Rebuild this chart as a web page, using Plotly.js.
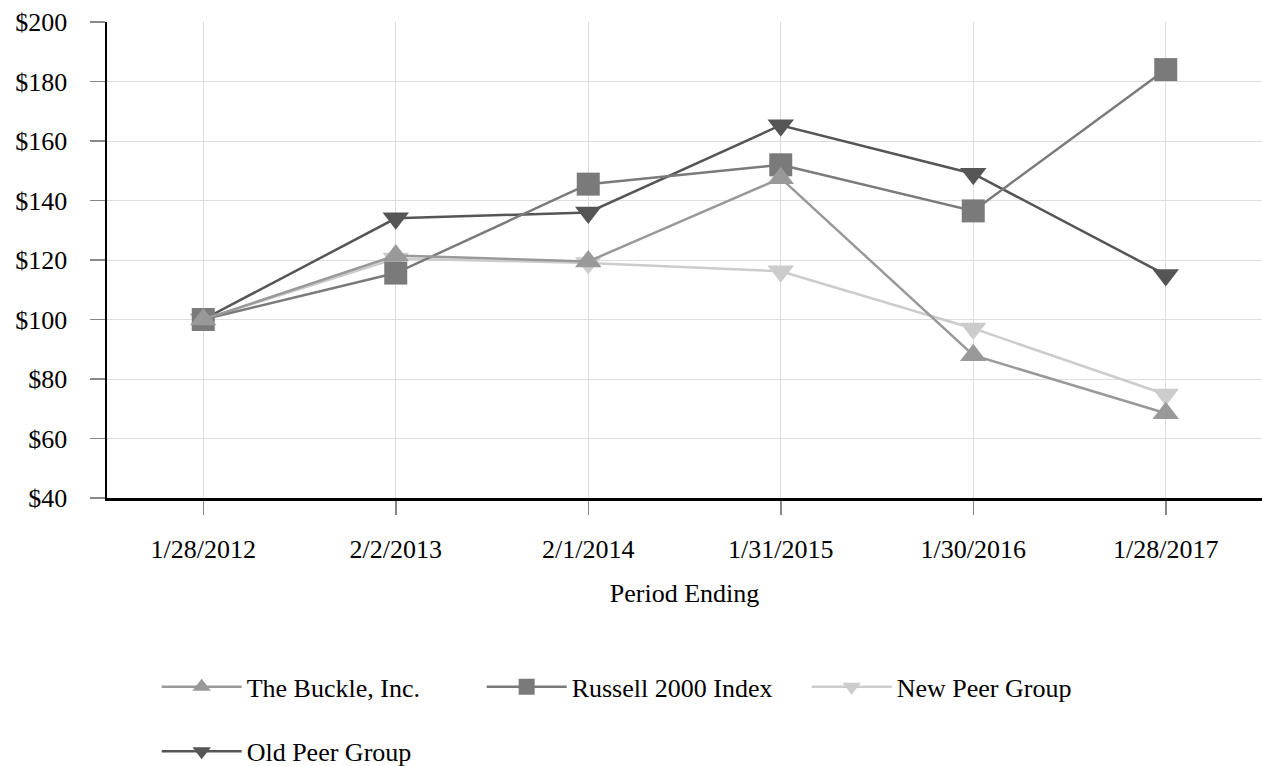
<!DOCTYPE html>
<html>
<head>
<meta charset="utf-8">
<script src="https://cdn.plot.ly/plotly-3.0.1.min.js"></script>
<style>html,body{margin:0;padding:0;background:#fff;}#chart{width:1262px;height:766px;}</style>
</head>
<body>
<div id="chart"></div>
<script>
var periods = ["1/28/2012", "2/2/2013", "2/1/2014", "1/31/2015", "1/30/2016", "1/28/2017"];
var buckle = [100, 121.5, 119.5, 147.5, 88, 68.5];
var russell = [100, 115.6, 145.5, 152, 136.5, 184];
var newPeer = [100, 120.5, 119, 116.2, 97, 74.8];
var oldPeer = [100, 134, 136, 165.3, 149, 115];
var yTicks = [40, 60, 80, 100, 120, 140, 160, 180, 200];
var yTickLabels = ["$40", "$60", "$80", "$100", "$120", "$140", "$160", "$180", "$200"];

var font = "Liberation Serif, Times New Roman, serif";
function tr(name, y, color, symbol, legend, rank) {
  return {
    x: periods, y: y, name: name, type: "scatter", mode: "lines+markers",
    line: {color: color, width: 2.5},
    marker: {color: color, symbol: symbol, size: 23},
    legend: legend, legendrank: rank
  };
}
var tBuckle = tr("The Buckle, Inc.", buckle, "#999999", "triangle-up", "legend", 1);
var tRussell = tr("Russell 2000 Index", russell, "#7a7a7a", "square", "legend", 2);
var tNew = tr("New Peer Group", newPeer, "#cccccc", "triangle-down", "legend", 3);
var tOld = tr("Old Peer Group", oldPeer, "#555555", "triangle-down", "legend2", 4);
var data = [tOld, tNew, tRussell, tBuckle];
var layout = {
  width: 1262, height: 766,
  margin: {l: 107, r: 0, t: 22, b: 268, autoexpand: false},
  paper_bgcolor: "#fff", plot_bgcolor: "#fff",
  font: {family: font, size: 26, color: "#000"},
  showlegend: true,
  xaxis: {
    type: "category", range: [-0.5, 5.5],
    showgrid: true, gridcolor: "#dddddd", gridwidth: 1,
    ticks: "outside", ticklen: 14, tickcolor: "#888", tickwidth: 1.5,
    showline: true, linecolor: "#000", linewidth: 2.5,
    tickfont: {family: font, size: 26}, ticklabelstandoff: 12,
    title: {text: "Period Ending", font: {family: font, size: 26}, standoff: 21},
    zeroline: false, fixedrange: true, automargin: false
  },
  yaxis: {
    range: [40, 200], tickvals: yTicks, ticktext: yTickLabels,
    showgrid: true, gridcolor: "#dddddd", gridwidth: 1,
    ticks: "outside", ticklen: 15, tickcolor: "#888", tickwidth: 1.5,
    showline: true, linecolor: "#000", linewidth: 2.5,
    tickfont: {family: font, size: 26}, ticklabelstandoff: 17,
    zeroline: false, fixedrange: true, automargin: false
  },
  legend: {
    orientation: "h", x: 0.043, y: -0.397, xanchor: "left", yanchor: "middle",
    traceorder: "normal", entrywidth: 230, entrywidthmode: "pixels", itemwidth: 80,
    font: {family: font, size: 26}
  },
  legend2: {
    orientation: "h", x: 0.043, y: -0.532, xanchor: "left", yanchor: "middle",
    entrywidth: 230, entrywidthmode: "pixels", itemwidth: 80,
    font: {family: font, size: 26}
  }
};
Plotly.newPlot("chart", data, layout, {displayModeBar: false, staticPlot: true});
</script>
</body>
</html>
